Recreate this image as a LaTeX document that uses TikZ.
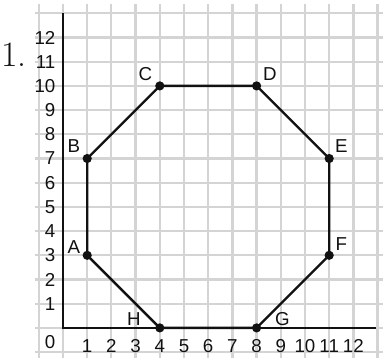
\documentclass[tikz,border=0pt]{standalone}
\usepackage{fontspec}
\setsansfont{Liberation Sans}
\usetikzlibrary{calc}
\definecolor{ink}{HTML}{111111}
\definecolor{gridline}{HTML}{D4D4D4}
\tikzset{
  every node/.style = {font=\sffamily\fontsize{11}{12}\selectfont, text=ink},
  pggrid/.style   = {draw=gridline, line width=1.3pt},
  pgaxis/.style   = {draw=ink, line width=1.4pt},
  pgside/.style   = {draw=ink, line width=1.4pt, line join=round},
  pgdot/.style    = {fill=ink},
  pgtick/.style   = {inner sep=0pt},
  pglab/.style    = {inner sep=0pt},
  pgnum/.style    = {font=\rmfamily\fontsize{21}{22}\selectfont, inner sep=0pt},
}

\begin{document}
\begin{tikzpicture}[x=0.5cm, y=0.5cm]
\useasboundingbox (-2.603,-1.24) rectangle (13.223,13.55);

% grid
\foreach \i in {-1,...,13}
  \draw[pggrid] (\i,-1.24) -- (\i,13.38);
\foreach \j in {-1,...,13}
  \draw[pggrid] (-1.15,\j) -- (13.223,\j);

% axes
\coordinate (O) at (0,0);
\coordinate (xend) at (12.95,0);
\coordinate (yend) at (0,13);
\draw[pgaxis] (xend) -- (O) -- (yend);

% tick labels
\foreach \i in {1,...,12}
  \node[pgtick] (xt\i) at (\i,-0.74) {\i};
\foreach \j in {1,...,12}
  \node[pgtick, anchor=east] (yt\j) at (-0.3,\j) {\j};
\node[pgtick, anchor=east] (zero) at (-0.3,-0.6) {0};

\node[pgnum] (num) at (-2.02,11.3) {1.};

% octagon
\coordinate (A) at (1,3);
\coordinate (B) at (1,7);
\coordinate (C) at (4,10);
\coordinate (D) at (8,10);
\coordinate (E) at (11,7);
\coordinate (F) at (11,3);
\coordinate (G) at (8,0);
\coordinate (H) at (4,0);
\draw[pgside] (A) -- (B) -- (C) -- (D) -- (E) -- (F) -- (G) -- (H) -- cycle;
\foreach \p in {A,B,C,D,E,F,G,H}
  \fill[pgdot] (\p) circle (0.19);

\node[pglab] (lA) at ($(A)+(-0.55,0.35)$) {A};
\node[pglab] (lB) at ($(B)+(-0.55,0.5)$) {B};
\node[pglab] (lC) at ($(C)+(-0.6,0.5)$) {C};
\node[pglab] (lD) at ($(D)+(0.55,0.47)$) {D};
\node[pglab] (lE) at ($(E)+(0.5,0.5)$) {E};
\node[pglab] (lF) at ($(F)+(0.5,0.45)$) {F};
\node[pglab] (lG) at ($(G)+(1.07,0.37)$) {G};
\node[pglab] (lH) at ($(H)+(-1.07,0.37)$) {H};
\end{tikzpicture}
\end{document}
